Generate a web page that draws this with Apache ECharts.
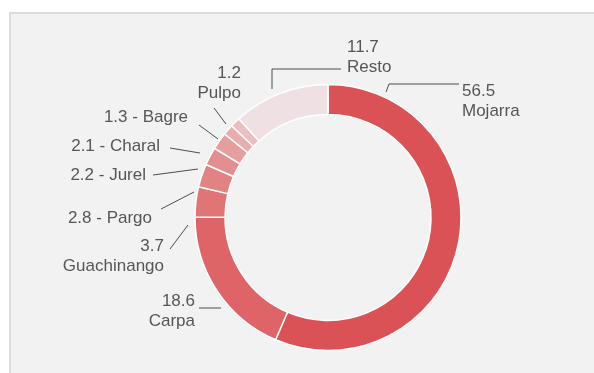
<!DOCTYPE html>
<html>
<head>
<meta charset="utf-8">
<script src="https://cdn.jsdelivr.net/npm/echarts@6/dist/echarts.min.js"></script>
<style>
  html, body { margin: 0; padding: 0; background: #ffffff; }
  #panel {
    position: absolute; left: 9px; top: 12px; width: 600px; height: 380px;
    background: #f1f2f1; border-top: 2px solid #dcdcdc; border-left: 2px solid #dcdcdc;
    box-sizing: border-box;
  }
  #chart { position: absolute; left: 0; top: 0; width: 594px; height: 373px; }
</style>
</head>
<body>
<div id="panel"></div>
<div id="chart"></div>
<script>
// Species share of the catch (%), clockwise from the top
const species = ['Mojarra', 'Carpa', 'Guachinango', 'Pargo', 'Jurel', 'Charal', 'Bagre', 'Pulpo', 'Resto'];
const shares = [56.5, 18.6, 3.7, 2.8, 2.2, 2.1, 1.3, 1.2, 11.7];
const sliceColors = ['#db5256', '#df6467', '#e07576', '#e18283', '#e38f90', '#e59d9e', '#e8aeae', '#ebbfc0', '#efe1e3'];

// How each label reads: value above name, or "value - name" on one line
const stacked = { Mojarra: true, Carpa: true, Guachinango: true, Pulpo: true, Resto: true };

// Label anchors and leader lines, in chart pixels
const labelSpots = {
  Mojarra:     { x: 462, y: 101, align: 'left',  line: [[386, 92], [389, 84], [459, 84]] },
  Carpa:       { x: 195, y: 311, align: 'right', line: [[199, 308], [221, 308]] },
  Guachinango: { x: 164, y: 256, align: 'right', line: [[170, 249], [188, 225]] },
  Pargo:       { x: 152, y: 218, align: 'right', line: [[161, 209], [194, 192]] },
  Jurel:       { x: 146, y: 175, align: 'right', line: [[153, 175], [198, 169]] },
  Charal:      { x: 160, y: 146, align: 'right', line: [[170, 148], [200, 153]] },
  Bagre:       { x: 188, y: 117, align: 'right', line: [[199, 125], [218, 139]] },
  Pulpo:       { x: 241, y: 83,  align: 'right', line: [[214, 108], [226, 124]] },
  Resto:       { x: 347, y: 57,  align: 'left',  line: [[272, 89], [272, 69], [341, 69]] }
};

const chart = echarts.init(document.getElementById('chart'), null, { renderer: 'canvas' });

chart.setOption({
  backgroundColor: 'transparent',
  animation: false,
  series: [{
    type: 'pie',
    center: [328, 217.5],
    radius: [103, 133],
    startAngle: 90,
    clockwise: true,
    avoidLabelOverlap: false,
    emphasis: { disabled: true },
    itemStyle: { borderColor: '#ffffff', borderWidth: 1.5 },
    data: species.map((name, i) => ({
      name: name,
      value: shares[i],
      itemStyle: { color: sliceColors[i] }
    })),
    label: {
      show: true,
      position: 'outside',
      color: '#555658',
      fontFamily: "'Liberation Sans', Arial, sans-serif",
      fontSize: 17,
      lineHeight: 20,
      formatter: p => stacked[p.name]
        ? p.value.toFixed(1) + '\n' + p.name
        : p.value.toFixed(1) + ' - ' + p.name
    },
    labelLine: {
      show: true,
      length: 10,
      length2: 10,
      lineStyle: { color: '#4d4d4f', width: 1 }
    },
    labelLayout: function (params) {
      const name = species[params.dataIndex];
      const spot = labelSpots[name];
      return {
        x: spot.x,
        y: spot.y,
        align: spot.align,
        verticalAlign: 'middle',
        labelLinePoints: spot.line
      };
    }
  }]
});
</script>
</body>
</html>
